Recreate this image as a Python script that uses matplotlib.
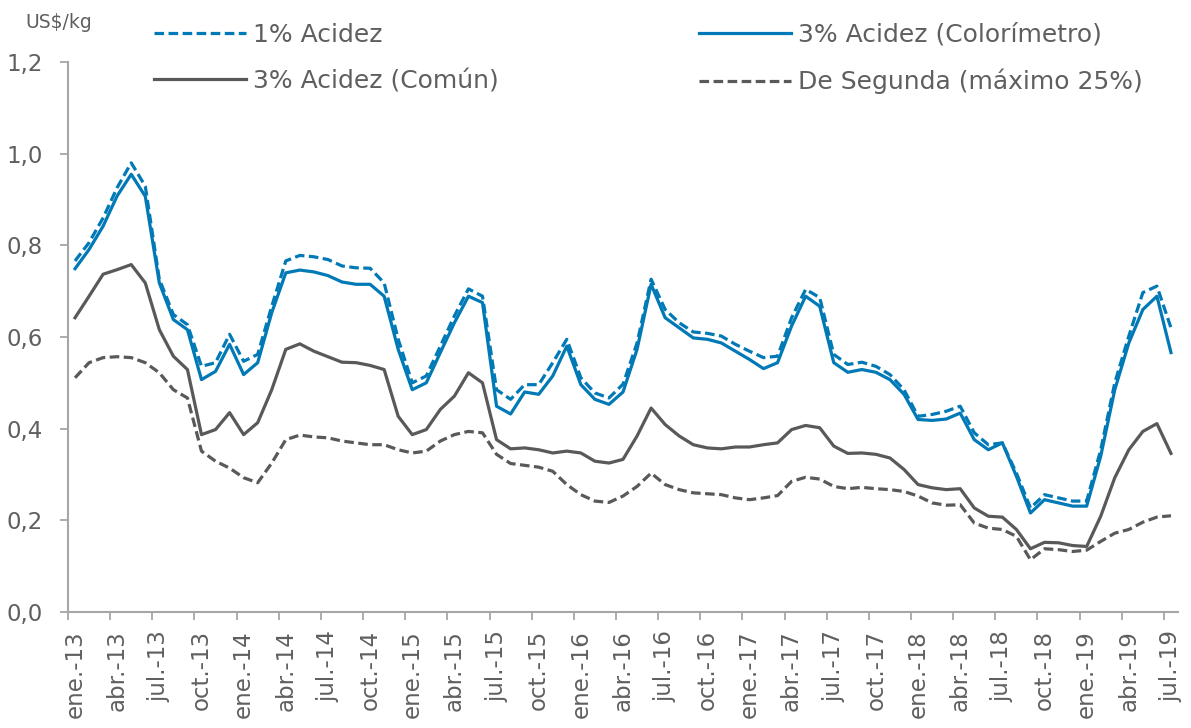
import matplotlib
matplotlib.use("Agg")
import matplotlib.pyplot as plt
import numpy as np

# monthly prices ene-13 .. jul-19 (US$/kg)
months = ["ene.", "feb.", "mar.", "abr.", "may.", "jun.",
          "jul.", "ago.", "sep.", "oct.", "nov.", "dic."]
years = [13, 14, 15, 16, 17, 18, 19]
labels = [f"{m}-{y}" for y in years for m in months][:79]

acidez_1 = [0.766, 0.806, 0.860, 0.926, 0.980, 0.929, 0.726, 0.649, 0.627, 0.536,
            0.544, 0.606, 0.547, 0.562, 0.667, 0.766, 0.778, 0.775, 0.769, 0.755,
            0.751, 0.750, 0.718, 0.595, 0.500, 0.515, 0.580, 0.646, 0.705, 0.689,
            0.485, 0.464, 0.496, 0.496, 0.544, 0.595, 0.511, 0.478, 0.467, 0.497,
            0.587, 0.726, 0.660, 0.631, 0.611, 0.608, 0.602, 0.584, 0.569, 0.555,
            0.558, 0.642, 0.704, 0.686, 0.562, 0.540, 0.545, 0.536, 0.518, 0.485,
            0.427, 0.431, 0.438, 0.449, 0.391, 0.365, 0.369, 0.303, 0.227, 0.256,
            0.249, 0.242, 0.242, 0.354, 0.500, 0.602, 0.697, 0.711, 0.620]
acidez_3_col = [0.749, 0.791, 0.842, 0.908, 0.955, 0.907, 0.718, 0.638, 0.616, 0.507,
                0.525, 0.584, 0.518, 0.544, 0.653, 0.740, 0.746, 0.742, 0.734, 0.720,
                0.715, 0.715, 0.689, 0.573, 0.485, 0.500, 0.566, 0.631, 0.689, 0.675,
                0.449, 0.432, 0.480, 0.475, 0.515, 0.580, 0.496, 0.464, 0.453, 0.480,
                0.573, 0.715, 0.642, 0.620, 0.598, 0.595, 0.587, 0.569, 0.551, 0.531,
                0.544, 0.624, 0.689, 0.667, 0.544, 0.523, 0.529, 0.523, 0.507, 0.475,
                0.420, 0.418, 0.421, 0.434, 0.376, 0.354, 0.369, 0.296, 0.216, 0.245,
                0.238, 0.231, 0.231, 0.340, 0.485, 0.587, 0.660, 0.689, 0.566]
acidez_3_com = [0.642, 0.689, 0.737, 0.747, 0.758, 0.718, 0.616, 0.558, 0.529, 0.387,
                0.398, 0.435, 0.387, 0.413, 0.485, 0.573, 0.585, 0.569, 0.557, 0.545,
                0.544, 0.538, 0.529, 0.427, 0.387, 0.398, 0.442, 0.471, 0.522, 0.500,
                0.376, 0.356, 0.358, 0.354, 0.347, 0.351, 0.347, 0.329, 0.325, 0.333,
                0.384, 0.445, 0.409, 0.384, 0.365, 0.358, 0.356, 0.360, 0.360, 0.365,
                0.369, 0.398, 0.407, 0.402, 0.362, 0.346, 0.347, 0.344, 0.336, 0.311,
                0.278, 0.271, 0.267, 0.269, 0.227, 0.209, 0.207, 0.180, 0.138, 0.152,
                0.151, 0.145, 0.143, 0.209, 0.293, 0.354, 0.394, 0.411, 0.346]
segunda = [0.511, 0.544, 0.555, 0.557, 0.555, 0.544, 0.522, 0.485, 0.467, 0.351,
           0.329, 0.314, 0.293, 0.282, 0.325, 0.376, 0.386, 0.382, 0.380, 0.373,
           0.369, 0.365, 0.365, 0.354, 0.347, 0.351, 0.373, 0.387, 0.394, 0.391,
           0.344, 0.324, 0.320, 0.316, 0.307, 0.278, 0.256, 0.242, 0.239, 0.253,
           0.274, 0.303, 0.278, 0.267, 0.260, 0.258, 0.256, 0.249, 0.245, 0.249,
           0.254, 0.285, 0.294, 0.290, 0.274, 0.269, 0.272, 0.269, 0.267, 0.263,
           0.253, 0.238, 0.233, 0.234, 0.194, 0.183, 0.180, 0.165, 0.114, 0.138,
           0.136, 0.132, 0.135, 0.154, 0.172, 0.180, 0.196, 0.207, 0.210]

blue = "#0079B6"
dark = "#595959"
txt = "#5f5f5f"
axis_col = "#A6A6A6"

plt.rcParams["font.family"] = ["DejaVu Sans"]

fig = plt.figure(figsize=(11.91, 7.28), dpi=100)
ax = fig.add_axes([68 / 1191, 116 / 728, (1178 - 68) / 1191, (612 - 62) / 728])

x = np.arange(len(labels))
lw = 2.3
l1, = ax.plot(x, acidez_1, color=blue, lw=lw, dashes=(3, 1.4), label="1% Acidez")
l2, = ax.plot(x, acidez_3_col, color=blue, lw=lw, label="3% Acidez (Colorímetro)")
l3, = ax.plot(x, acidez_3_com, color=dark, lw=lw, label="3% Acidez (Común)")
l4, = ax.plot(x, segunda, color=dark, lw=lw, dashes=(3, 1.4), label="De Segunda (máximo 25%)")
for l in (l1, l2, l3, l4):
    l.set_solid_joinstyle("round")
    l.set_dash_joinstyle("round")

ax.set_xlim(-0.5, len(labels) - 0.5)
ax.set_ylim(0, 1.2)

# tick marks between categories, labels on categories
ax.set_xticks(np.arange(0, len(labels), 3) - 0.5)
ax.set_xticklabels([])
ax.set_xticks(np.arange(0, len(labels), 3), minor=True)
ax.set_xticklabels(labels[::3], minor=True, rotation=90, fontsize=16.5, color=txt)
ax.tick_params(axis="x", which="major", length=6, width=1.3, color=axis_col, direction="out")
ax.tick_params(axis="x", which="minor", length=0, pad=13)

yt = np.arange(0, 1.21, 0.2)
ax.set_yticks(yt)
ax.set_yticklabels([f"{v:.1f}".replace(".", ",") for v in yt], fontsize=16.5, color=txt)
ax.tick_params(axis="y", length=6, width=1.3, color=axis_col, direction="out", pad=12)

for s in ("top", "right"):
    ax.spines[s].set_visible(False)
for s in ("left", "bottom"):
    ax.spines[s].set_color(axis_col)
    ax.spines[s].set_linewidth(1.5)

fig.text(25 / 1191, 1 - 22 / 728, "US$/kg", fontsize=13.5, color=txt, va="center", ha="left")

leg = fig.legend(handles=[l1, l3, l2, l4], ncol=2, loc="upper left",
                 bbox_to_anchor=(131 / 1191, 1 + 0 / 728), frameon=False,
                 fontsize=18, handlelength=3.7, handletextpad=0.28,
                 columnspacing=8.0, labelspacing=0.9, labelcolor=txt)

fig.savefig("out.png", dpi=100)
